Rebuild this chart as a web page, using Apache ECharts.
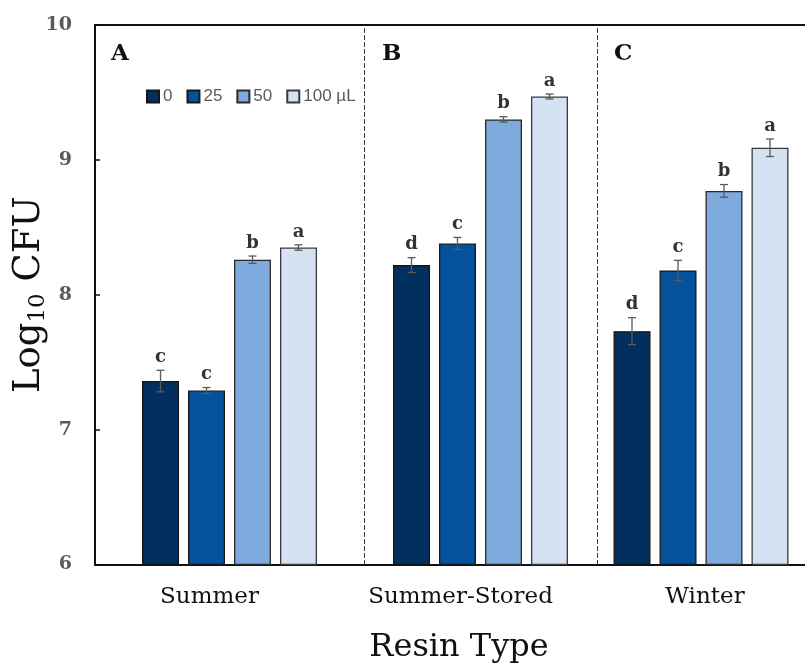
<!DOCTYPE html>
<html>
<head>
<meta charset="utf-8">
<script src="https://cdn.jsdelivr.net/npm/echarts@6/dist/echarts.min.js"></script>
<style>html,body{margin:0;padding:0;background:#fff;}#chart{width:805px;height:669px;}</style>
</head>
<body>
<div id="chart"></div>
<script>
// ---- data ----
const categories = ['Summer', 'Summer-Stored', 'Winter'];
const doses = ['0', '25', '50', '100 µL'];
const meanDose0   = [7.36, 8.22, 7.73];
const meanDose25  = [7.29, 8.38, 8.18];
const meanDose50  = [8.26, 9.30, 8.77];
const meanDose100 = [8.35, 9.47, 9.09];
const errDose0    = [0.08, 0.055, 0.10];
const errDose25   = [0.022, 0.045, 0.075];
const errDose50   = [0.027, 0.02, 0.047];
const errDose100  = [0.02, 0.018, 0.065];
const lettersDose0   = ['c', 'd', 'd'];
const lettersDose25  = ['c', 'c', 'c'];
const lettersDose50  = ['b', 'b', 'b'];
const lettersDose100 = ['a', 'a', 'a'];
const panelLetters = ['A', 'B', 'C'];
const yMin = 6, yMax = 10, yInterval = 1;

const means = [meanDose0, meanDose25, meanDose50, meanDose100];
const errs = [errDose0, errDose25, errDose50, errDose100];
const letters = [lettersDose0, lettersDose25, lettersDose50, lettersDose100];

// ---- styles ----
const colors = ['#02305e', '#03529b', '#7eaadd', '#d5e2f3'];
const borders = ['#151515', '#1a1a1a', '#2a2a2a', '#3a3a3a'];
const SERIF = 'DejaVu Serif';
const BAR_W = 37, BAR_GAP = 9;
const gridBoxes = [
  { left: 95, width: 269 },
  { left: 364, width: 233 },
  { left: 597, width: 210 }
];
const labelPads = [[0, 40, 0, 0], [0, 40, 0, 0], [0, 0, 0, 8]];
const panelLetterPos = [106, 377, 609];

const chart = echarts.init(document.getElementById('chart'));

const grid = gridBoxes.map(b => ({ left: b.left, width: b.width, top: 25, bottom: 104.5, containLabel: false }));

const xAxis = [];
categories.forEach((c, g) => {
  xAxis.push({
    type: 'category', gridIndex: g, data: [c], position: 'bottom',
    axisLine: { show: true, onZero: false, lineStyle: { color: '#111', width: 2 } },
    axisTick: { show: false },
    axisLabel: { fontFamily: SERIF, fontSize: 23, color: '#111', margin: 21, padding: labelPads[g] },
    splitLine: { show: false }
  });
});
categories.forEach((c, g) => {
  xAxis.push({
    type: 'category', gridIndex: g, data: [c], position: 'top',
    axisLine: { show: true, onZero: false, lineStyle: { color: '#111', width: 2 } },
    axisTick: { show: false }, axisLabel: { show: false }, splitLine: { show: false }
  });
});

const yAxis = categories.map((c, g) => {
  const base = { type: 'value', gridIndex: g, min: yMin, max: yMax, interval: yInterval, splitLine: { show: false } };
  if (g === 0) {
    return Object.assign(base, {
      axisLine: { show: true, lineStyle: { color: '#111', width: 2 } },
      axisTick: { show: true, inside: true, length: 5, lineStyle: { color: '#111', width: 1.5 } },
      axisLabel: { fontFamily: SERIF, fontWeight: 'bold', fontSize: 19, color: '#5a5a5a', margin: 23 },
      name: '{a|Log}{s|10}{a| CFU}',
      nameLocation: 'middle', nameRotate: 90, nameGap: 45, nameMoveOverlap: false,
      nameTextStyle: {
        rich: {
          a: { fontFamily: SERIF, fontSize: 37, color: '#111', lineHeight: 42, verticalAlign: 'middle' },
          s: { fontFamily: SERIF, fontSize: 23, color: '#111', lineHeight: 22, verticalAlign: 'bottom' }
        }
      }
    });
  }
  return Object.assign(base, {
    axisLine: { show: true, lineStyle: { color: '#333', width: 1, type: [4, 3] } },
    axisTick: { show: false }, axisLabel: { show: false }
  });
});

const series = [];
categories.forEach((c, g) => {
  doses.forEach((d, k) => {
    series.push({
      type: 'bar', name: d, xAxisIndex: g, yAxisIndex: g,
      data: [means[k][g]],
      barWidth: BAR_W, barGap: (BAR_GAP / BAR_W * 100).toFixed(1) + '%',
      itemStyle: { color: colors[k], borderColor: borders[k], borderWidth: 1.3 },
      emphasis: { disabled: true }
    });
  });
  series.push({
    type: 'custom', name: 'err' + g, xAxisIndex: g, yAxisIndex: g, z: 10,
    data: doses.map((d, k) => [0, k, means[k][g], errs[k][g]]),
    encode: { x: 0, y: 2 },
    renderItem: function (params, api) {
      const k = api.value(1), v = api.value(2), e = api.value(3);
      const c0 = api.coord([0, v]);
      const cx = c0[0] + (k - 1.5) * (BAR_W + BAR_GAP);
      const yt = api.coord([0, v + e])[1];
      const yb = api.coord([0, v - e])[1];
      const st = { stroke: '#5a5a5a', lineWidth: 1.3 };
      return {
        type: 'group',
        children: [
          { type: 'line', shape: { x1: cx, y1: yt, x2: cx, y2: yb }, style: st },
          { type: 'line', shape: { x1: cx - 4, y1: yt, x2: cx + 4, y2: yt }, style: st },
          { type: 'line', shape: { x1: cx - 4, y1: yb, x2: cx + 4, y2: yb }, style: st },
          { type: 'text', x: cx, y: yt - 4, style: { text: letters[k][g], fill: '#333', font: 'bold 18px "' + SERIF + '"', align: 'center', verticalAlign: 'bottom' } }
        ]
      };
    }
  });
});

const title = panelLetters.map((L, g) => ({
  text: L, left: panelLetterPos[g], top: 38,
  textStyle: { fontFamily: SERIF, fontWeight: 'bold', fontSize: 23, color: '#111' }
}));
title.push({
  text: 'Resin Type', left: 454, top: 627, textAlign: 'center',
  textStyle: { fontFamily: SERIF, fontWeight: 'normal', fontSize: 32, color: '#111' }
});

chart.setOption({
  animation: false,
  backgroundColor: '#fff',
  title: title,
  legend: {
    data: doses, left: 141, top: 83, icon: 'rect', itemWidth: 12, itemHeight: 12, itemGap: 14,
    selectedMode: false,
    textStyle: { fontFamily: 'Liberation Sans', fontSize: 17, color: '#5a5a5a', padding: [0, 0, 0, -1] }
  },
  grid: grid,
  xAxis: xAxis,
  yAxis: yAxis,
  series: series
});
</script>
</body>
</html>
